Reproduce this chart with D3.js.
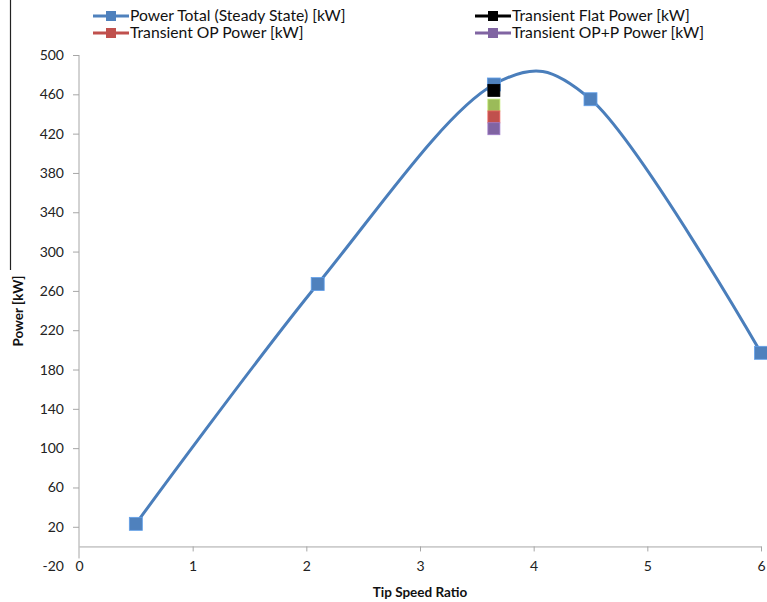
<!DOCTYPE html>
<html>
<head>
<meta charset="utf-8">
<script src="https://cdn.jsdelivr.net/npm/d3@7"></script>
<style>
  body { margin: 0; background: #fff; }
  svg { display: block; font-family: Lato, 'Open Sans', sans-serif; }
</style>
</head>
<body>
<svg id="chart"></svg>
<script>
// steady state curve
const tsr = [0.5, 2.1, 3.65, 4.5, 6];
const powerTotal = [23, 267, 470, 455, 197];

// transient points (all at the same tip speed ratio)
const transientTsr = 3.65;
const transientFlat = 464;
const transientGreen = 449;
const transientOP = 437;
const transientOPP = 425;

const yTicks = [-20, 20, 60, 100, 140, 180, 220, 260, 300, 340, 380, 420, 460, 500];
const xTicks = [0, 1, 2, 3, 4, 5, 6];

const legendItems = [
  { label: 'Power Total (Steady State) [kW]', color: '#4f81bd', col: 0, row: 0 },
  { label: 'Transient Flat Power [kW]', color: '#000000', col: 1, row: 0 },
  { label: 'Transient OP Power [kW]', color: '#c0504d', col: 0, row: 1 },
  { label: 'Transient OP+P Power [kW]', color: '#8064a2', col: 1, row: 1 }
];

const width = 767, height = 602;
const svg = d3.select('#chart').attr('width', width).attr('height', height);

const x = d3.scaleLinear().domain([0, 6]).range([79, 761]);
const y = d3.scaleLinear().domain([-20, 500]).range([566.1, 55]);
const axisColor = '#a6a6a6';
const plain = d => String(d); // keep ascii hyphen in "-20"

// stray frame line on the left
svg.append('line')
  .attr('x1', 10.5).attr('x2', 10.5).attr('y1', 0).attr('y2', 270)
  .attr('stroke', '#222').attr('stroke-width', 1.2);

// y axis
const yAxis = svg.append('g')
  .attr('transform', `translate(${x(0)},0)`)
  .call(d3.axisLeft(y).tickValues(yTicks).tickFormat(plain).tickSize(6).tickPadding(9));
yAxis.select('.domain').attr('stroke', axisColor).attr('d', `M-0,${y(500)}H0V${y(0) + 12}`);
yAxis.selectAll('.tick line').attr('stroke', axisColor);
yAxis.selectAll('.tick').filter(d => d === -20).select('line').remove();
yAxis.selectAll('.tick text')
  .style('font-family', 'Lato, sans-serif').style('font-size', '14px').attr('fill', '#222');

// x axis, crossing at y = 0
const xAxis = svg.append('g')
  .attr('transform', `translate(0,${y(0)})`)
  .call(d3.axisBottom(x).tickValues(xTicks).tickFormat(plain).tickSize(5).tickSizeOuter(0).tickPadding(10));
xAxis.select('.domain').attr('stroke', axisColor);
xAxis.selectAll('.tick line').attr('stroke', axisColor);
xAxis.selectAll('.tick text')
  .style('font-family', 'Lato, sans-serif').style('font-size', '14px').attr('fill', '#222');
xAxis.selectAll('.tick').filter(d => d === 0).select('line').remove();
xAxis.selectAll('.tick').filter(d => d === 6).select('text').attr('text-anchor', 'end').attr('dx', 4);

// axis titles
svg.append('text')
  .attr('x', 420).attr('y', 597)
  .attr('text-anchor', 'middle')
  .style('font-size', '13.5px').style('font-weight', 'bold').attr('fill', '#111')
  .text('Tip Speed Ratio');

svg.append('text')
  .attr('transform', 'translate(23,311) rotate(-90)')
  .attr('text-anchor', 'middle')
  .style('font-size', '13.5px').style('font-weight', 'bold').attr('fill', '#111')
  .text('Power [kW]');

// steady state line
const pts = tsr.map((t, i) => [t, powerTotal[i]]);
const line = d3.line()
  .x(d => x(d[0])).y(d => y(d[1]))
  .curve(d3.curveCatmullRom.alpha(0.2));

svg.append('path')
  .datum(pts)
  .attr('fill', 'none')
  .attr('stroke', '#4a7ebb')
  .attr('stroke-width', 3)
  .attr('d', line);

const ms = 13;
function square(cx, cy, fill, size) {
  svg.append('rect')
    .attr('x', cx - size / 2).attr('y', cy - size / 2)
    .attr('width', size).attr('height', size)
    .attr('fill', fill)
    .attr('stroke', d3.color(fill).brighter(0.6))
    .attr('stroke-width', 0.8);
}

pts.forEach(d => square(x(d[0]), y(d[1]), '#4f81bd', ms));
square(x(transientTsr), y(transientFlat), '#000000', 12);
square(x(transientTsr), y(transientGreen), '#9bbb59', 12);
square(x(transientTsr), y(transientOP), '#c0504d', 12);
square(x(transientTsr), y(transientOPP), '#8064a2', 12);

// legend
const colX = [93, 475];
const rowY = [16, 33];
const lg = svg.append('g');
legendItems.forEach(d => {
  const lx = colX[d.col], ly = rowY[d.row];
  lg.append('line')
    .attr('x1', lx).attr('x2', lx + 36).attr('y1', ly).attr('y2', ly)
    .attr('stroke', d.color).attr('stroke-width', 3);
  lg.append('rect')
    .attr('x', lx + 13).attr('y', ly - 5).attr('width', 10).attr('height', 10)
    .attr('fill', d.color);
  lg.append('text')
    .attr('x', lx + 37).attr('y', ly).attr('dy', '0.35em')
    .style('font-size', '15.7px').attr('fill', '#111')
    .text(d.label);
});
</script>
</body>
</html>
